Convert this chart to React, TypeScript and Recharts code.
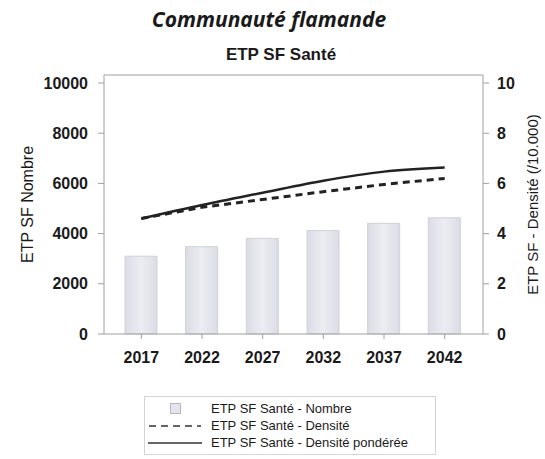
import React from 'react'
import { ComposedChart, Bar, Line, XAxis, YAxis, ReferenceLine, Legend } from 'recharts'

const YEARS = ['2017', '2022', '2027', '2032', '2037', '2042']
const NOMBRE = [3100, 3480, 3810, 4120, 4410, 4630]
const DENSITE = [4.6, 5.05, 5.36, 5.67, 5.96, 6.2]
const PONDEREE = [4.6, 5.14, 5.63, 6.11, 6.47, 6.63]
const LEFT_TICKS = [0, 2000, 4000, 6000, 8000, 10000]
const RIGHT_TICKS = [0, 2, 4, 6, 8, 10]

const SERIES = {
  nombre: 'ETP SF Santé - Nombre',
  densite: 'ETP SF Santé - Densité',
  ponderee: 'ETP SF Santé - Densité pondérée',
}

const data = YEARS.map((year, i) => ({
  year,
  nombre: NOMBRE[i],
  densite: DENSITE[i],
  ponderee: PONDEREE[i],
}))

const AXIS = '#a0a0a0'
const TEXT = '#1a1a1a'
const FONT = '"Liberation Sans", Arial, sans-serif'

const tickStyle = { fill: TEXT, fontSize: 16, fontWeight: 'bold' as const, fontFamily: FONT }

function LegendBox() {
  const row = { display: 'flex', alignItems: 'center', height: 17 }
  const icon = { width: 56, display: 'flex', justifyContent: 'center', marginRight: 8 }
  return (
    <div
      style={{
        border: '1px solid #d4d4d4',
        padding: '3px 6px 3px 2px',
        fontFamily: FONT,
        fontSize: 13,
        color: TEXT,
        width: 292,
        boxSizing: 'border-box',
      }}
    >
      <div style={row}>
        <div style={icon}>
          <div style={{ width: 9, height: 9, background: '#e4e4ec', border: '1px solid #b8b8c4' }} />
        </div>
        {SERIES.nombre}
      </div>
      <div style={row}>
        <div style={icon}>
          <svg width={52} height={4}>
            <line x1={0} y1={2} x2={52} y2={2} stroke="#333" strokeWidth={1.5} strokeDasharray="7 5" />
          </svg>
        </div>
        {SERIES.densite}
      </div>
      <div style={row}>
        <div style={icon}>
          <svg width={54} height={4}>
            <line x1={0} y1={2} x2={54} y2={2} stroke="#333" strokeWidth={1.5} />
          </svg>
        </div>
        {SERIES.ponderee}
      </div>
    </div>
  )
}

export default function App() {
  return (
    <div style={{ position: 'absolute', left: 0, top: 0, width: 545, height: 459, background: '#fff' }}>
      <div
        style={{
          position: 'absolute',
          left: 0,
          width: 538,
          top: 5,
          textAlign: 'center',
          fontFamily: '"Open Sans", sans-serif',
          fontStyle: 'italic',
          fontWeight: 'bold',
          fontSize: 21,
          color: TEXT,
        }}
      >
        Communauté flamande
      </div>
      <div
        style={{
          position: 'absolute',
          left: 0,
          width: 562,
          top: 45,
          textAlign: 'center',
          fontFamily: FONT,
          fontWeight: 'bold',
          fontSize: 17,
          color: TEXT,
        }}
      >
        ETP SF Santé
      </div>
      <ComposedChart
        width={545}
        height={459}
        data={data}
        margin={{ top: 75, right: 0, bottom: 0, left: 0 }}
        style={{ position: 'absolute', left: 0, top: 0 }}
      >
        <defs>
          <linearGradient id="barFill" x1="0" y1="0" x2="1" y2="0">
            <stop offset="0%" stopColor="#dcdce6" />
            <stop offset="50%" stopColor="#ececf2" />
            <stop offset="100%" stopColor="#dcdce6" />
          </linearGradient>
        </defs>
        <XAxis
          dataKey="year"
          height={125}
          padding={{ left: 7, right: 8 }}
          tickSize={5}
          tickMargin={13}
          stroke={AXIS}
          tick={tickStyle}
        />
        <YAxis
          yAxisId="left"
          width={104}
          domain={[0, 10320]}
          ticks={LEFT_TICKS}
          tickSize={6}
          tickMargin={10}
          stroke={AXIS}
          tick={tickStyle}
          label={{
            value: 'ETP SF Nombre',
            angle: -90,
            position: 'insideLeft',
            offset: 27,
            style: { textAnchor: 'middle', fill: TEXT, fontSize: 16, fontFamily: FONT },
          }}
        />
        <YAxis
          yAxisId="right"
          orientation="right"
          width={62}
          domain={[0, 10.32]}
          ticks={RIGHT_TICKS}
          tickSize={6}
          tickMargin={8}
          stroke={AXIS}
          tick={tickStyle}
          label={{
            value: 'ETP SF - Densité (/10.000)',
            angle: -90,
            position: 'insideRight',
            offset: 12,
            style: { textAnchor: 'middle', fill: TEXT, fontSize: 15, fontFamily: FONT },
          }}
        />
        <ReferenceLine yAxisId="left" y={10320} stroke={AXIS} />
        <Bar
          yAxisId="left"
          dataKey="nombre"
          name={SERIES.nombre}
          barSize={32}
          fill="url(#barFill)"
          stroke="#d0d0da"
          isAnimationActive={false}
        />
        <Line
          yAxisId="right"
          dataKey="densite"
          name={SERIES.densite}
          stroke="#222"
          strokeWidth={3}
          strokeDasharray="7 5"
          dot={false}
          type="linear"
          isAnimationActive={false}
        />
        <Line
          yAxisId="right"
          dataKey="ponderee"
          name={SERIES.ponderee}
          stroke="#222"
          strokeWidth={2.5}
          dot={false}
          type="monotone"
          isAnimationActive={false}
        />
        <Legend
          layout="vertical"
          align="center"
          verticalAlign="middle"
          wrapperStyle={{ left: 144, top: 396, width: 292 }}
          content={() => <LegendBox />}
        />
      </ComposedChart>
    </div>
  )
}
